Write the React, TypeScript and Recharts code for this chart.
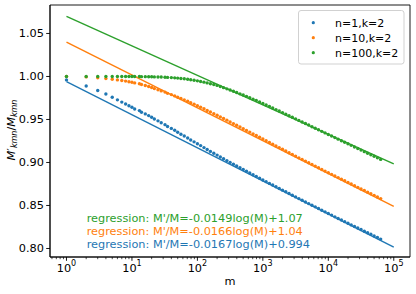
import React from 'react';
import { ComposedChart, Scatter, Line, XAxis, YAxis, ReferenceArea } from 'recharts';

// m values of the sampled points
const mValues = [
  1, 2, 3, 4, 5, 6, 7, 8, 9, 10,
  11, 13, 14, 16, 18, 20, 22, 25, 28, 32,
  35, 40, 45, 50, 56, 63, 71, 79, 89, 100,
  112, 126, 141, 158, 178, 200, 224, 251, 282, 316,
  355, 398, 447, 501, 562, 631, 708, 794, 891, 1000,
  1122, 1259, 1413, 1585, 1778, 1995, 2239, 2512, 2818, 3162,
  3548, 3981, 4467, 5012, 5623, 6310, 7079, 7943, 8913, 10000,
  11220, 12589, 14125, 15849, 17783, 19953, 22387, 25119, 28184, 31623,
  35481, 39811, 44668, 50119, 56234, 63096,
];

// n=1,k=2
const n1k2 = [
  0.9960, 0.9890, 0.9837, 0.9797, 0.9758, 0.9728, 0.9702, 0.9680, 0.9660, 0.9642,
  0.9622, 0.9603, 0.9584, 0.9565, 0.9545, 0.9526, 0.9505, 0.9484, 0.9462, 0.9440,
  0.9418, 0.9396, 0.9374, 0.9351, 0.9329, 0.9307, 0.9285, 0.9262, 0.9240, 0.9218,
  0.9196, 0.9173, 0.9151, 0.9129, 0.9108, 0.9086, 0.9064, 0.9043, 0.9022, 0.9001,
  0.8979, 0.8959, 0.8938, 0.8918, 0.8898, 0.8877, 0.8857, 0.8837, 0.8817, 0.8796,
  0.8777, 0.8757, 0.8738, 0.8718, 0.8698, 0.8678, 0.8659, 0.8639, 0.8619, 0.8600,
  0.8580, 0.8561, 0.8541, 0.8522, 0.8503, 0.8484, 0.8465, 0.8445, 0.8426, 0.8407,
  0.8388, 0.8368, 0.8349, 0.8331, 0.8312, 0.8294, 0.8274, 0.8256, 0.8238, 0.8220,
  0.8201, 0.8183, 0.8165, 0.8146, 0.8127, 0.8109,
];

// n=10,k=2
const n10k2 = [
  1.0000, 0.9995, 0.9985, 0.9975, 0.9967, 0.9960, 0.9953, 0.9946, 0.9939, 0.9932,
  0.9925, 0.9916, 0.9906, 0.9895, 0.9884, 0.9872, 0.9859, 0.9846, 0.9832, 0.9818,
  0.9804, 0.9789, 0.9774, 0.9759, 0.9744, 0.9728, 0.9712, 0.9695, 0.9678, 0.9661,
  0.9642, 0.9624, 0.9605, 0.9587, 0.9568, 0.9549, 0.9530, 0.9511, 0.9492, 0.9471,
  0.9452, 0.9432, 0.9413, 0.9393, 0.9373, 0.9353, 0.9333, 0.9313, 0.9293, 0.9273,
  0.9253, 0.9233, 0.9213, 0.9193, 0.9173, 0.9153, 0.9133, 0.9113, 0.9093, 0.9074,
  0.9054, 0.9035, 0.9016, 0.8996, 0.8977, 0.8958, 0.8938, 0.8919, 0.8900, 0.8881,
  0.8862, 0.8843, 0.8824, 0.8806, 0.8787, 0.8767, 0.8749, 0.8730, 0.8711, 0.8692,
  0.8674, 0.8655, 0.8637, 0.8618, 0.8599, 0.8580,
];

// n=100,k=2
const n100k2 = [
  1.0000, 1.0000, 1.0000, 1.0000, 1.0000, 1.0000, 1.0000, 1.0000, 1.0000, 0.9999,
  0.9999, 0.9999, 0.9998, 0.9998, 0.9997, 0.9996, 0.9995, 0.9994, 0.9993, 0.9991,
  0.9989, 0.9987, 0.9984, 0.9981, 0.9977, 0.9973, 0.9968, 0.9962, 0.9956, 0.9949,
  0.9942, 0.9934, 0.9925, 0.9916, 0.9906, 0.9896, 0.9883, 0.9870, 0.9856, 0.9842,
  0.9828, 0.9813, 0.9798, 0.9784, 0.9769, 0.9752, 0.9736, 0.9720, 0.9703, 0.9686,
  0.9669, 0.9651, 0.9633, 0.9615, 0.9598, 0.9580, 0.9562, 0.9544, 0.9525, 0.9507,
  0.9489, 0.9471, 0.9453, 0.9435, 0.9416, 0.9398, 0.9380, 0.9362, 0.9344, 0.9326,
  0.9308, 0.9289, 0.9271, 0.9253, 0.9235, 0.9217, 0.9199, 0.9180, 0.9162, 0.9144,
  0.9126, 0.9108, 0.9090, 0.9073, 0.9054, 0.9036,
];

// regression lines (endpoints at m=1 and m=1e5)
const regM = [1, 100000];
const regN1 = [0.994, 0.8017];
const regN10 = [1.04, 0.8489];
const regN100 = [1.07, 0.8985];

const seriesNames = ['n=1,k=2', 'n=10,k=2', 'n=100,k=2'];
const regressionLabels = [
  "regression: M'/M=-0.0149log(M)+1.07",
  "regression: M'/M=-0.0166log(M)+1.04",
  "regression: M'/M=-0.0167log(M)+0.994",
];

const xMajorTicks = [1, 10, 100, 1000, 10000, 100000];
const xMinorTicks = [
  0.6, 0.7, 0.8, 0.9,
  2, 3, 4, 5, 6, 7, 8, 9,
  20, 30, 40, 50, 60, 70, 80, 90,
  200, 300, 400, 500, 600, 700, 800, 900,
  2000, 3000, 4000, 5000, 6000, 7000, 8000, 9000,
  20000, 30000, 40000, 50000, 60000, 70000, 80000, 90000,
];
const yTicks = [0.8, 0.85, 0.9, 0.95, 1.0, 1.05];

const X_DOMAIN: [number, number] = [0.56, 177000];
const Y_DOMAIN: [number, number] = [0.7901, 1.0831];

const BLUE = '#1f77b4';
const ORANGE = '#ff7f0e';
const GREEN = '#2ca02c';
const FONT = 'DejaVu Sans';

const toPoints = (ys: number[]) => mValues.map((m, i) => ({ m, y: ys[i] }));
const toLine = (ys: number[]) => regM.map((m, i) => ({ m, y: ys[i] }));

const blueData = toPoints(n1k2);
const orangeData = toPoints(n10k2);
const greenData = toPoints(n100k2);

const allXTicks = [...xMinorTicks, ...xMajorTicks].sort((a, b) => a - b);

const XTick = (props: any) => {
  const { x, y, payload } = props;
  const v = payload.value;
  const isMajor = xMajorTicks.includes(v);
  if (!isMajor) {
    return <line x1={x} x2={x} y1={y} y2={y + 2.2} stroke="#000" strokeWidth={0.7} />;
  }
  const exp = Math.round(Math.log10(v));
  return (
    <g>
      <line x1={x} x2={x} y1={y} y2={y + 3.8} stroke="#000" strokeWidth={0.9} />
      <text x={x} y={y + 15} textAnchor="middle" fontSize={11.3} fontFamily={FONT} fill="#000">
        10<tspan dy={-6} fontSize={8}>{exp}</tspan>
      </text>
    </g>
  );
};

const YTick = (props: any) => {
  const { x, y, payload } = props;
  return (
    <g>
      <line x1={x} x2={x - 3.8} y1={y} y2={y} stroke="#000" strokeWidth={0.9} />
      <text x={x - 6} y={y + 4} textAnchor="end" fontSize={11.3} fontFamily={FONT} fill="#000">
        {Number(payload.value).toFixed(2)}
      </text>
    </g>
  );
};

const dot = (color: string) => (p: any) => (
  <circle cx={p.cx} cy={p.cy} r={1.7} fill={color} />
);

export default function App() {
  const legendColors = [BLUE, ORANGE, GREEN];
  const regColors = [GREEN, ORANGE, BLUE];
  return (
    <div style={{ position: 'absolute', left: 0, top: 0, width: 416, height: 294, background: '#fff' }}>
      <ComposedChart width={416} height={294} margin={{ top: 5, right: 6, bottom: 0, left: 0 }}>
        <XAxis
          dataKey="m"
          type="number"
          scale="log"
          domain={X_DOMAIN}
          allowDataOverflow
          ticks={allXTicks}
          interval={0}
          tick={<XTick />}
          tickLine={false}
          tickSize={0}
          tickMargin={0}
          height={37}
          axisLine={{ stroke: '#000', strokeWidth: 0.9 }}
        />
        <YAxis
          dataKey="y"
          type="number"
          domain={Y_DOMAIN}
          allowDataOverflow
          ticks={yTicks}
          interval={0}
          tick={<YTick />}
          tickLine={false}
          tickSize={0}
          tickMargin={0}
          width={50}
          axisLine={{ stroke: '#000', strokeWidth: 0.9 }}
        />
        <Scatter name={seriesNames[0]} data={blueData} dataKey="y" fill={BLUE} shape={dot(BLUE)} isAnimationActive={false} />
        <Scatter name={seriesNames[1]} data={orangeData} dataKey="y" fill={ORANGE} shape={dot(ORANGE)} isAnimationActive={false} />
        <Scatter name={seriesNames[2]} data={greenData} dataKey="y" fill={GREEN} shape={dot(GREEN)} isAnimationActive={false} />
        <Line data={toLine(regN1)} dataKey="y" type="linear" stroke={BLUE} strokeWidth={1.4} dot={false} activeDot={false} legendType="none" isAnimationActive={false} />
        <Line data={toLine(regN10)} dataKey="y" type="linear" stroke={ORANGE} strokeWidth={1.4} dot={false} activeDot={false} legendType="none" isAnimationActive={false} />
        <Line data={toLine(regN100)} dataKey="y" type="linear" stroke={GREEN} strokeWidth={1.4} dot={false} activeDot={false} legendType="none" isAnimationActive={false} />
        <ReferenceArea
          x1={X_DOMAIN[0]}
          x2={X_DOMAIN[1]}
          y1={Y_DOMAIN[0]}
          y2={Y_DOMAIN[1]}
          fill="none"
          fillOpacity={0}
          stroke="#000"
          strokeWidth={0.9}
          ifOverflow="visible"
        />
      </ComposedChart>
      <svg
        width={416}
        height={294}
        style={{ position: 'absolute', left: 0, top: 0, pointerEvents: 'none' }}
      >
        {/* legend */}
        <rect x={298.5} y={10.5} width={105.5} height={53.5} rx={2.5} fill="#fff" fillOpacity={0.8} stroke="#cccccc" strokeWidth={0.9} />
        {seriesNames.map((name, i) => (
          <g key={name}>
            <circle cx={313.3} cy={22.7 + i * 15} r={1.6} fill={legendColors[i]} />
            <text x={335} y={26.7 + i * 15} fontSize={11} fontFamily={FONT} fill="#000">
              {name}
            </text>
          </g>
        ))}
        {/* regression annotations */}
        {regressionLabels.map((t, i) => (
          <text key={t} x={86.7} y={222 + i * 13} fontSize={11.3} fontFamily={FONT} fill={regColors[i]}>
            {t}
          </text>
        ))}
        {/* x label */}
        <text x={230} y={285} textAnchor="middle" fontSize={11.3} fontFamily={FONT} fill="#000">m</text>
        {/* y label */}
        <text
          transform="translate(14.5,130) rotate(-90)"
          textAnchor="middle"
          fontSize={11.3}
          fontFamily={FONT}
          fontStyle="italic"
          fill="#000"
        >
          M<tspan fontStyle="normal">′</tspan>
          <tspan dy={2.5} fontSize={8}>kmn</tspan>
          <tspan dy={-2.5} fontStyle="normal">/</tspan>M
          <tspan dy={2.5} fontSize={8}>kmn</tspan>
        </text>
      </svg>
    </div>
  );
}
